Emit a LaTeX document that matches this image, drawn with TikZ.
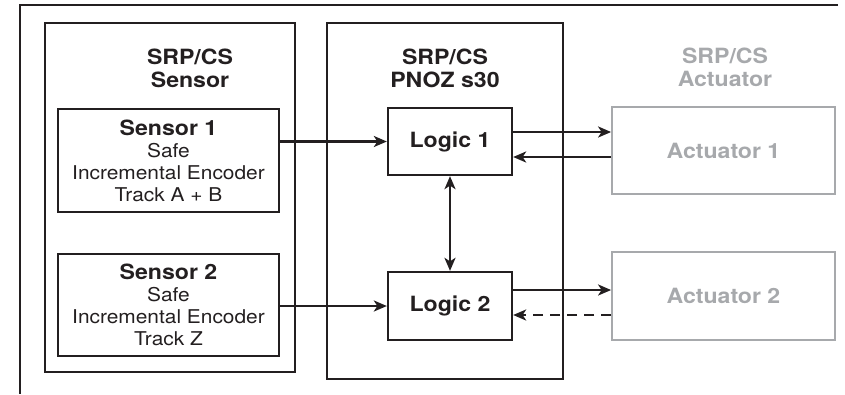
\documentclass[tikz,border=0pt]{standalone}
\usepackage{fontspec}
\setmainfont{TeX Gyre Heros}[FakeStretch=1.1]
\usetikzlibrary{arrows.meta}
\definecolor{ink}{HTML}{231F20}
\definecolor{pale}{HTML}{A7A9AC}
\tikzset{
  innerbox/.style={draw=ink,line width=2.3pt,align=center,text=ink,inner sep=0pt},
  actbox/.style={draw=pale,line width=1.8pt,text=pale,inner sep=0pt,font=\fontsize{21}{24}\selectfont\bfseries},
  title/.style={align=center,font=\fontsize{21}{23}\selectfont\bfseries,text=ink,inner sep=0pt},
  tip/.tip={Stealth[length=13pt,width=11pt,inset=3.5pt]},
  conn/.style={draw=ink,line width=2.2pt,-tip},
  biconn/.style={draw=ink,line width=2.2pt,tip-tip},
  body/.style={font=\fontsize{19}{22}\selectfont}
}
\begin{document}
\begin{tikzpicture}[x=1pt,y=-1pt]
\useasboundingbox (0,0) rectangle (845,394);
% frame lines
\coordinate (ftl) at (20,5);
\coordinate (ftr) at (838,5);
\coordinate (fbl) at (20,394);
\draw[draw=ink,line width=1.2pt] (ftr) -- (ftl) -- (fbl);
% outer boxes
\node[draw=ink,line width=2.3pt,minimum width=250pt,minimum height=349pt] (sens) at (170,197.5) {};
\node[draw=ink,line width=2.3pt,minimum width=236pt,minimum height=356pt] (pnoz) at (445,201) {};
% titles
\node[title] (tsens) at (190,68) {SRP/CS\\Sensor};
\node[title] (tpnoz) at (445,68) {SRP/CS\\PNOZ s30};
\node[title,text=pale] (tact) at (725,67) {SRP/CS\\Actuator};
% sensors
\node[innerbox,body,minimum width=221pt,minimum height=103pt] (s1) at (168.5,160.5)
  {{\bfseries\fontsize{21}{22}\selectfont Sensor 1}\\Safe\\Incremental Encoder\\Track A + B};
\node[innerbox,body,minimum width=221pt,minimum height=102pt] (s2) at (168.5,305)
  {{\bfseries\fontsize{21}{22}\selectfont Sensor 2}\\Safe\\Incremental Encoder\\Track Z};
% logic
\node[innerbox,minimum width=124pt,minimum height=67pt,font=\fontsize{21}{24}\selectfont\bfseries] (l1) at (450,141.5) {Logic 1};
\node[innerbox,minimum width=124pt,minimum height=68pt,font=\fontsize{21}{24}\selectfont\bfseries] (l2) at (450,306) {Logic 2};
% actuators
\node[actbox,minimum width=223pt,minimum height=87pt] (a1) at (723.5,150.5) {Actuator 1};
\node[actbox,minimum width=223pt,minimum height=88pt] (a2) at (723.5,296) {Actuator 2};
% connectors
\draw[conn] (s1.east |- l1.west) -- (l1.west);
\draw[conn] (s2.east |- l2.west) -- (l2.west);
\draw[biconn] (l1.south) -- (l2.north);
\draw[conn] ([yshift=9.5pt]l1.east) -- ([yshift=9.5pt]l1.east -| a1.west);
\draw[conn] ([yshift=-15.5pt]l1.east -| a1.west) -- ([yshift=-15.5pt]l1.east);
\draw[conn] ([yshift=16pt]l2.east) -- ([yshift=16pt]l2.east -| a2.west);
\draw[conn,dash pattern=on 10pt off 7pt] ([yshift=-9pt]l2.east -| a2.west) -- ([yshift=-9pt]l2.east);
\end{tikzpicture}
\end{document}
